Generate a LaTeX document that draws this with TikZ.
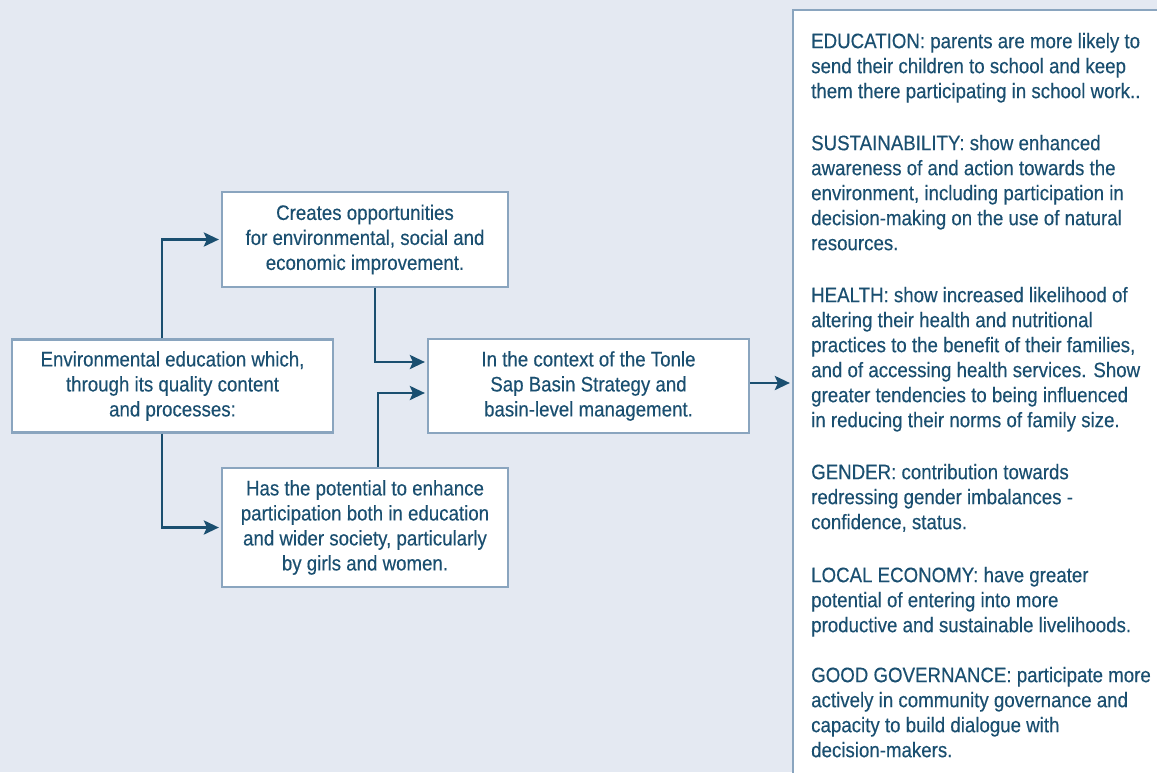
\documentclass[tikz,border=0pt]{standalone}
\usepackage{fontspec}
\setmainfont{Liberation Sans}[FakeStretch=0.89,FakeBold=0.3]
\usetikzlibrary{arrows.meta}
\definecolor{bgcol}{HTML}{E4E9F2}
\definecolor{txtcol}{HTML}{1A4F70}
\definecolor{bordercol}{HTML}{8AA5BF}
\newcommand{\dfont}{\fontsize{21}{25}\selectfont}
\tikzset{
  box/.style={draw=bordercol, line width=2.2pt, fill=white, text=txtcol, align=center, inner sep=0pt, font=\dfont},
  arr/.style={draw=txtcol, line width=2.8pt, shorten >=2pt, -{Stealth[length=15pt,width=14pt,inset=3pt]}},
  para/.style={anchor=north west, align=left, inner sep=0pt, text=txtcol, font=\dfont}
}
\begin{document}
\begin{tikzpicture}[x=1pt,y=-1pt]
\useasboundingbox (0,0) rectangle (1157,772);
\clip (0,0) rectangle (1157,772);
\fill[bgcol] (0,0) rectangle (1157,772);

\node[box, minimum width=321pt, minimum height=93pt] (a) at (172.5,386)
  {Environmental education which,\\through its quality content\\and processes:};
\node[box, minimum width=286pt, minimum height=95pt] (b) at (365,239.5)
  {Creates opportunities\\for environmental, social and\\economic improvement.};
\node[box, minimum width=321pt, minimum height=94pt] (c) at (588.5,386)
  {In the context of the Tonle\\Sap Basin Strategy and\\basin-level management.};
\node[box, minimum width=286pt, minimum height=119pt] (d) at (365,527.5)
  {Has the potential to enhance\\participation both in education\\and wider society, particularly\\by girls and women.};
\node[box, minimum width=407pt, minimum height=790pt] (r) at (996.5,405) {};

\node[para] (p1) at (811,30.5) {\strut EDUCATION: parents are more likely to\\send their children to school and keep\\them there participating in school work..};
\node[para] (p2) at (811,132.5) {\strut SUSTAINABILITY: show enhanced\\awareness of and action towards the\\environment, including participation in\\decision-making on the use of natural\\resources.};
\node[para] (p3) at (811,284.5) {\strut HEALTH: show increased likelihood of\\altering their health and nutritional\\practices to the benefit of their families,\\and of accessing health services. Show\\greater tendencies to being influenced\\in reducing their norms of family size.};
\node[para] (p4) at (811,461.5) {\strut GENDER: contribution towards\\redressing gender imbalances -\\confidence, status.};
\node[para] (p5) at (811,564.5) {\strut LOCAL ECONOMY: have greater\\potential of entering into more\\productive and sustainable livelihoods.};
\node[para] (p6) at (811,664.5) {\strut GOOD GOVERNANCE: participate more\\actively in community governance and\\capacity to build dialogue with\\decision-makers.};

\draw[arr] ([xshift=-10.5pt]a.north) |- (b.west);
\draw[arr] ([xshift=-10.5pt]a.south) |- (d.west);
\draw[arr] ([xshift=10pt]b.south) |- ([yshift=24pt]c.west);
\draw[arr] ([xshift=13pt]d.north) |- ([yshift=-7pt]c.west);
\draw[arr] ([yshift=3pt]c.east) -- ([yshift=3pt]c.east -| r.west);
\end{tikzpicture}
\end{document}
